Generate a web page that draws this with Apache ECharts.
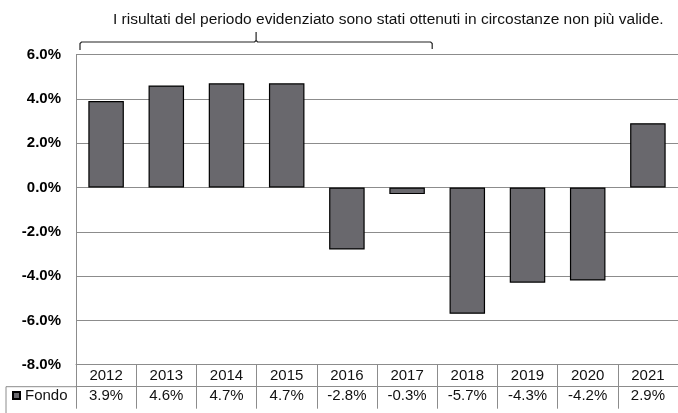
<!DOCTYPE html>
<html>
<head>
<meta charset="utf-8">
<script src="https://cdn.jsdelivr.net/npm/echarts@6/dist/echarts.min.js"></script>
<style>html,body{margin:0;padding:0;background:#fff;}#c{width:678px;height:413px;}</style>
</head>
<body>
<div id="c"></div>
<script>
const categories = ['2012','2013','2014','2015','2016','2017','2018','2019','2020','2021'];
const fondoValues = [3.9, 4.6, 4.7, 4.7, -2.8, -0.3, -5.7, -4.3, -4.2, 2.9];
const yTicks = [-8, -6, -4, -2, 0, 2, 4, 6];
const seriesName = 'Fondo';
const noteText = 'I risultati del periodo evidenziato sono stati ottenuti in circostanze non più valide.';
const highlightedRange = [0, 5];

const FONT = '"Liberation Sans", Arial, sans-serif';
const GRID = {left: 76, top: 54.5, right: -5, bottom: 48.3};
const LINE = '#8c8c8c';

const chart = echarts.init(document.getElementById('c'), null, {renderer: 'canvas'});
chart.setOption({
  animation: false,
  backgroundColor: '#ffffff',
  textStyle: {fontFamily: FONT},
  title: {
    text: noteText, left: 113, top: 12, padding: 0,
    textStyle: {fontSize: 15.5, fontWeight: 'normal', color: '#111', fontFamily: FONT}
  },
  legend: {
    data: [seriesName], left: 12, top: 388, icon: 'rect',
    itemWidth: 7, itemHeight: 7, itemGap: 4, padding: 0,
    textStyle: {fontSize: 15, color: '#111', fontFamily: FONT}
  },
  grid: GRID,
  xAxis: [{
    type: 'category', data: categories, position: 'bottom',
    axisLine: {show: true, onZero: false, lineStyle: {color: LINE, width: 1}},
    axisTick: {show: true, length: 44, lineStyle: {color: LINE, width: 1}},
    axisLabel: {fontSize: 15, color: '#111', margin: 4, fontFamily: FONT},
    splitLine: {show: false}
  }, {
    type: 'category', data: categories, position: 'bottom', offset: 22,
    axisLine: {show: true, onZero: false, lineStyle: {color: LINE, width: 1}},
    axisTick: {show: false},
    axisLabel: {fontSize: 15, color: '#111', margin: 2, fontFamily: FONT,
      formatter: (v, i) => fondoValues[i].toFixed(1) + '%'},
    splitLine: {show: false}
  }],
  yAxis: {
    type: 'value', min: yTicks[0], max: yTicks[yTicks.length-1], interval: 2,
    axisLine: {show: true, lineStyle: {color: LINE, width: 1}},
    axisTick: {show: false},
    axisLabel: {fontSize: 15, fontWeight: 'bold', color: '#000', margin: 15, fontFamily: FONT,
      formatter: v => v.toFixed(1) + '%'},
    splitLine: {show: true, lineStyle: {color: LINE, width: 1}}
  },
  series: [{
    name: seriesName, type: 'bar', xAxisIndex: 0, data: fondoValues,
    barWidth: '59%',
    itemStyle: {color: '#69686d', borderColor: '#000', borderWidth: 1.2}
  }]
});

// table legend cell + bracket annotation, positioned from axis layout
const c0 = chart.convertToPixel({xAxisIndex: 0}, categories[highlightedRange[0]]);
const c1 = chart.convertToPixel({xAxisIndex: 0}, categories[highlightedRange[1]]);
const c2 = chart.convertToPixel({xAxisIndex: 0}, categories[1]);
const bw = c2 - c0;
const yBottom = chart.convertToPixel({yAxisIndex: 0}, yTicks[0]);
const bl = c0 - bw / 2 + 4, br = c1 + bw / 2 - 5, bm = (bl + br) / 2;
const by = 42;
const bracketStyle = {stroke: '#222', lineWidth: 1.2, fill: null};
chart.setOption({
  graphic: [
    {type: 'polyline', shape: {points: [[6, yBottom + 22], [GRID.left, yBottom + 22]]}, style: {stroke: LINE, lineWidth: 1, fill: null}},
    {type: 'polyline', shape: {points: [[6, yBottom + 22], [6, 420]]}, style: {stroke: LINE, lineWidth: 1, fill: null}},
    {type: 'polyline', shape: {points: [[bl, by + 8], [bl, by + 1.5], [bl + 1.5, by], [bm - 1.5, by], [bm, by - 1.5], [bm, by - 10]]}, style: bracketStyle},
    {type: 'polyline', shape: {points: [[bm, by - 1.5], [bm + 1.5, by], [br - 1.5, by], [br, by + 1.5], [br, by + 7]]}, style: bracketStyle}
  ]
});
</script>
</body>
</html>
